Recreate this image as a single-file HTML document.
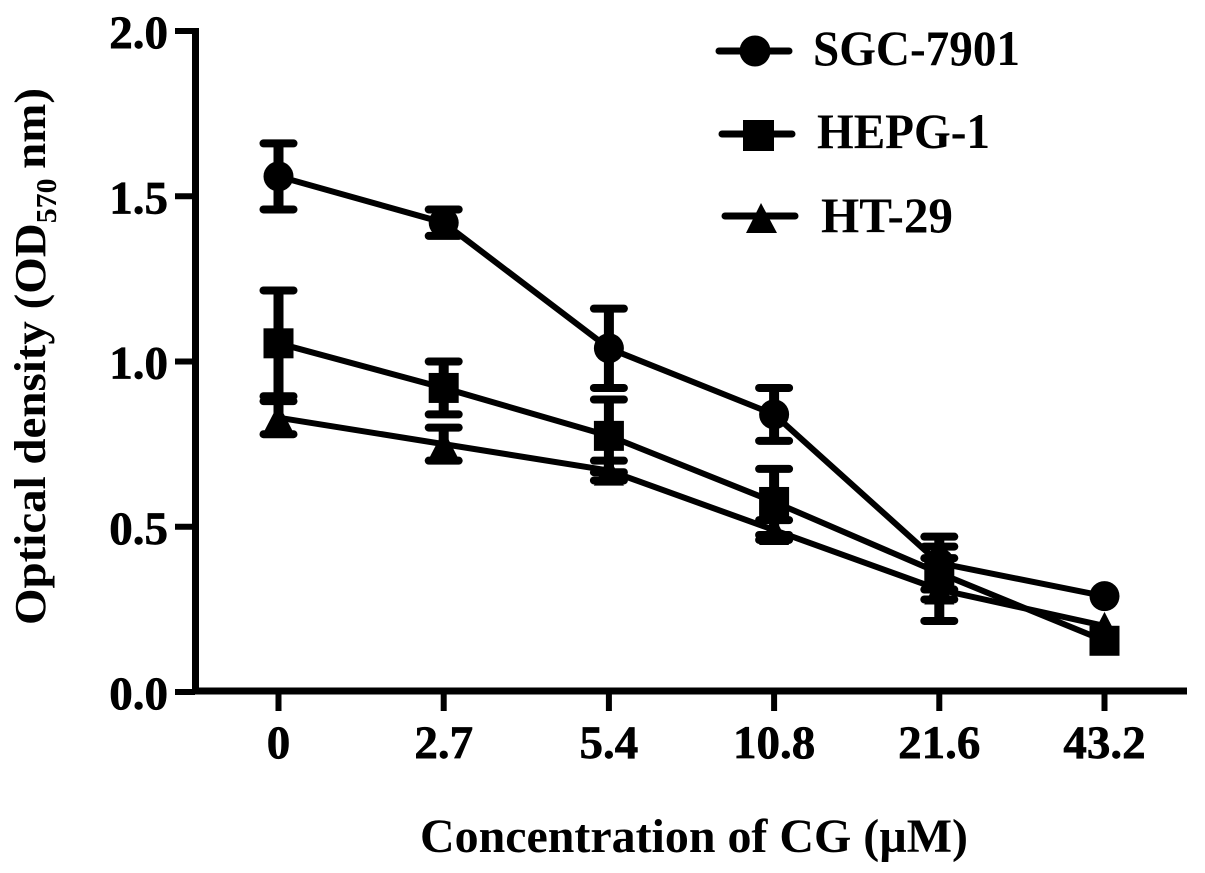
<!DOCTYPE html>
<html lang="en">
<head>
<meta charset="utf-8">
<title>Optical density vs concentration of CG</title>
<style>
html,body{margin:0;padding:0;background:#fff;}
svg{display:block;}
text{font-family:"Liberation Serif",serif;font-weight:bold;fill:#000;}
</style>
</head>
<body>
<svg id="chart" width="1205" height="873" viewBox="0 0 1205 873" xmlns="http://www.w3.org/2000/svg">
  <rect width="1205" height="873" fill="#fff"/>
  <g id="plot"></g>
  <g id="axes"></g>
  <text transform="translate(45,625) rotate(-90)" font-size="44" textLength="537" lengthAdjust="spacingAndGlyphs">Optical density (OD<tspan font-size="28" dy="11">570</tspan><tspan dy="-11" dx="9">nm)</tspan></text>
  <text x="420" y="852" font-size="48" textLength="548" lengthAdjust="spacingAndGlyphs">Concentration of CG (µM)</text>
  <g id="legend">
    <g>
      <line x1="719" y1="51" x2="789" y2="51" stroke="#000" stroke-width="7" stroke-linecap="round"/>
      <circle cx="755" cy="51" r="15.5" fill="#000"/>
      <text x="813" y="65" font-size="50" textLength="207" lengthAdjust="spacingAndGlyphs">SGC-7901</text>
    </g>
    <g>
      <line x1="722" y1="134" x2="792" y2="134" stroke="#000" stroke-width="7" stroke-linecap="round"/>
      <rect x="743" y="120" width="31" height="31" fill="#000"/>
      <text x="817" y="148" font-size="50" textLength="173" lengthAdjust="spacingAndGlyphs">HEPG-1</text>
    </g>
    <g>
      <line x1="725" y1="216" x2="795" y2="216" stroke="#000" stroke-width="7" stroke-linecap="round"/>
      <polygon points="761,203 777,233 746,233" fill="#000"/>
      <text x="821" y="232" font-size="50" textLength="132" lengthAdjust="spacingAndGlyphs">HT-29</text>
    </g>
  </g>
</svg>
<script>
// Chart data
const categories = ['0', '2.7', '5.4', '10.8', '21.6', '43.2'];
const yTickValues = [0, 0.5, 1, 1.5, 2];
const yTickLabels = ['0.0', '0.5', '1.0', '1.5', '2.0'];
const sgcValues = [1.56, 1.42, 1.04, 0.84, 0.39, 0.29];
const sgcErrors = [0.10, 0.04, 0.12, 0.08, 0.08, 0];
const hepgValues = [1.055, 0.92, 0.775, 0.575, 0.36, 0.155];
const hepgErrors = [0.16, 0.08, 0.11, 0.10, 0.08, 0];
const htValues = [0.83, 0.75, 0.67, 0.49, 0.31, 0.20];
const htErrors = [0.05, 0.05, 0.03, 0.03, 0.095, 0];

const SVG_NS = 'http://www.w3.org/2000/svg';
const plot = document.getElementById('plot');
const axes = document.getElementById('axes');

function xScale(i) { return 278.5 + i * 165.2; }
function yScale(v) { return 692 - v * 330.5; }

function make(tag, attrs, parent) {
  const el = document.createElementNS(SVG_NS, tag);
  for (const k in attrs) el.setAttribute(k, attrs[k]);
  parent.appendChild(el);
  return el;
}

function drawSeries(slug, values, errors, shape) {
  const g = make('g', {}, plot);
  
  

  values.forEach(function (v, i) {
    if (!errors[i]) return;
    const x = xScale(i);
    const top = yScale(v + errors[i]);
    const bottom = yScale(v - errors[i]);
    const stem = make('line', { x1: x, x2: x, y1: top, y2: bottom, stroke: '#000', 'stroke-width': 10 }, g);
    
    
    [top, bottom].forEach(function (y) {
      const cap = make('line', { x1: x - 15, x2: x + 15, y1: y, y2: y, stroke: '#000', 'stroke-width': 8, 'stroke-linecap': 'round' }, g);
      
      
    });
  });

  const pts = values.map(function (v, i) { return xScale(i) + ',' + yScale(v); }).join(' ');
  const line = make('polyline', { points: pts, fill: 'none', stroke: '#000', 'stroke-width': 6, 'stroke-linejoin': 'round' }, g);
  
  

  values.forEach(function (v, i) {
    const x = xScale(i);
    const y = yScale(v);
    let m;
    if (shape === 'circle') {
      m = make('circle', { cx: x, cy: y, r: 15, fill: '#000' }, g);
    } else if (shape === 'square') {
      m = make('rect', { x: x - 15, y: y - 15, width: 30, height: 30, fill: '#000' }, g);
    } else {
      m = make('polygon', { points: x + ',' + (y - 14) + ' ' + (x + 15) + ',' + (y + 15) + ' ' + (x - 15) + ',' + (y + 15), fill: '#000' }, g);
    }
    
    
  });
}

drawSeries('ht-29', htValues, htErrors, 'triangle');
drawSeries('sgc-7901', sgcValues, sgcErrors, 'circle');
drawSeries('hepg-1', hepgValues, hepgErrors, 'square');

// Axes
const yAxisLine = make('line', { x1: 195.5, x2: 195.5, y1: yScale(2) - 3, y2: 694.5, stroke: '#000', 'stroke-width': 7 }, axes);


const xAxisLine = make('line', { x1: 192, x2: 1187, y1: 691, y2: 691, stroke: '#000', 'stroke-width': 7 }, axes);



yTickValues.forEach(function (v, i) {
  const y = yScale(v);
  const tick = make('line', { x1: 175, x2: 195, y1: y, y2: y, stroke: '#000', 'stroke-width': 6 }, axes);
  
  
  const label = make('text', { x: 168, y: y + 17, 'font-size': 47, 'text-anchor': 'end', stroke: '#000', 'stroke-width': 0.7 }, axes);
  
  
  label.textContent = yTickLabels[i];
});

categories.forEach(function (c, i) {
  const x = xScale(i);
  const tick = make('line', { x1: x, x2: x, y1: 691, y2: 711, stroke: '#000', 'stroke-width': 6 }, axes);
  
  
  const label = make('text', { x: x, y: 758, 'font-size': 47, 'text-anchor': 'middle', stroke: '#000', 'stroke-width': 0.7 }, axes);
  
  
  label.textContent = c;
});
</script>
</body>
</html>
